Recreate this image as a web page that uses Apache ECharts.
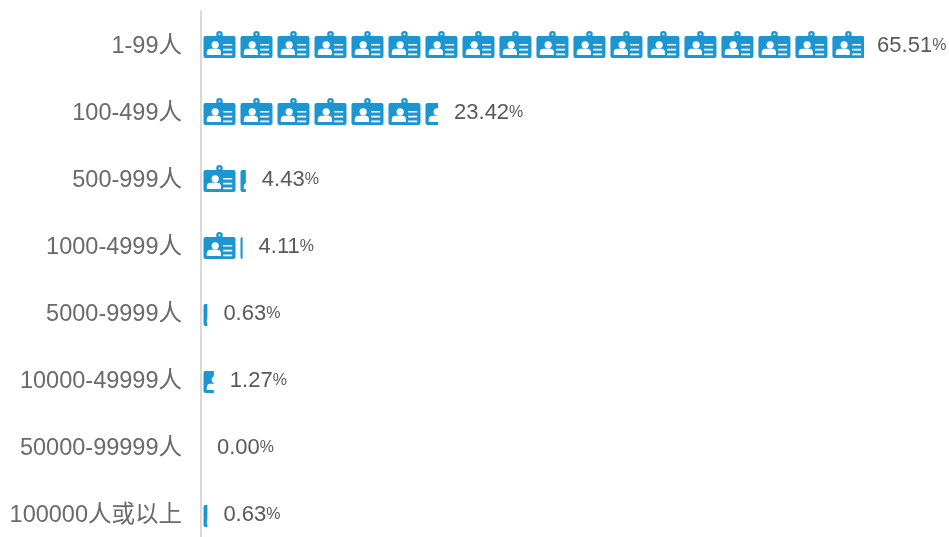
<!DOCTYPE html>
<html>
<head>
<meta charset="utf-8">
<style>
html,body{margin:0;padding:0;background:#fff;overflow:hidden}
#main{width:949px;height:537px}
</style>
<script src="https://cdn.jsdelivr.net/npm/echarts@6/dist/echarts.min.js"></script>
</head>
<body>
<div id="main"></div>
<script>
var categories = ['1-99人','100-499人','500-999人','1000-4999人','5000-9999人','10000-49999人','50000-99999人','100000人或以上'];
var values = [65.51,23.42,4.43,4.11,0.63,1.27,0.00,0.63];

// 工牌图标 32x27
var badge = 'path://M16 0A3.3 3.3 0 1 1 16 6.6A3.3 3.3 0 1 1 16 0Z'
  + 'M16 2.3A1 1 0 1 0 16 4.3A1 1 0 1 0 16 2.3Z'
  + 'M2 5H30Q32 5 32 7V25Q32 27 30 27H2Q0 27 0 25V7Q0 5 2 5Z'
  + 'M11.7 10.2A3.6 3.6 0 1 0 11.7 17.4A3.6 3.6 0 1 0 11.7 10.2Z'
  + 'M3.3 24H17.5V21.5Q17.5 18 14 17.7H7Q3.3 18 3.3 21.5Z'
  + 'M19.7 13V14.6H28.7V13Z'
  + 'M19.7 17.8V19.4H28.7V17.8Z'
  + 'M19.7 22.6V24.2H28.7V22.6Z';

var fontFamily = '"Liberation Sans","Noto Sans CJK SC",sans-serif';

var myChart = echarts.init(document.getElementById('main'));
myChart.setOption({
  animation: false,
  grid: { left: 201, top: 11, width: 748, height: 536, outerBoundsMode: 'none' },
  xAxis: { type: 'value', min: 0, max: 73.9, show: false },
  yAxis: {
    type: 'category',
    inverse: true,
    data: categories,
    axisTick: { show: false },
    axisLine: { lineStyle: { color: '#d9d9d9', width: 2 } },
    axisLabel: {
      margin: 19,
      formatter: '{a|{value}}',
      rich: {
        a: { fontSize: 23.5, color: '#6a6a6a', fontFamily: fontFamily, padding: [4, 0, 0, 0] }
      }
    }
  },
  series: [{
    type: 'pictorialBar',
    data: values,
    symbol: badge,
    symbolSize: [32, 27],
    symbolRepeat: true,
    symbolClip: true,
    symbolMargin: '2.5!',
    symbolBoundingData: 65.79,
    itemStyle: { color: '#1b96d1' },
    z: 3
  }, {
    // 只用来放数值标签
    type: 'bar',
    data: values.map(function (v, i) {
      return i === 0 ? { value: v, label: { distance: 13 } } : v;
    }),
    barGap: '-100%',
    barWidth: 27,
    itemStyle: { color: 'transparent' },
    label: {
      show: true,
      position: 'right',
      distance: 16,
      padding: [2, 0, 0, 0],
      color: '#595959',
      formatter: function (p) { return '{n|' + p.value.toFixed(2) + '}{p|%}'; },
      rich: {
        n: { fontSize: 22, color: '#595959', fontFamily: fontFamily },
        p: { fontSize: 16, color: '#595959', fontFamily: fontFamily }
      }
    }
  }]
});
</script>
</body>
</html>
